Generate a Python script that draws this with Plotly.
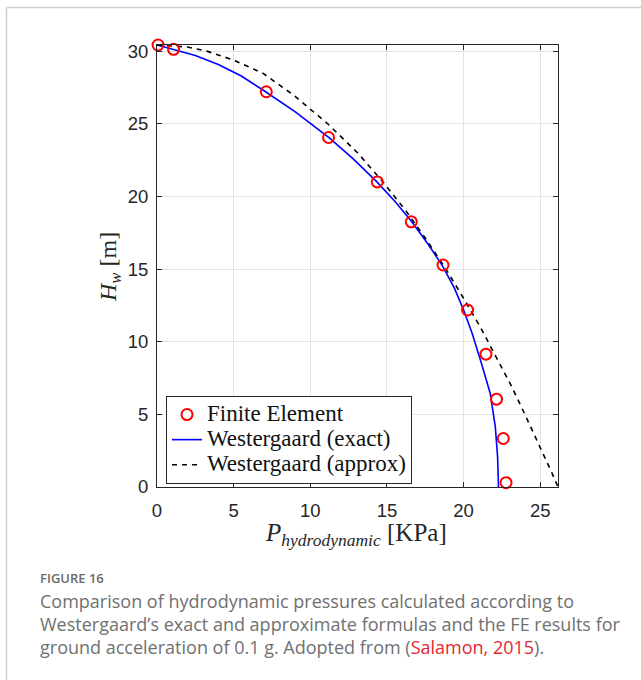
import plotly.graph_objects as go

# ---- data ----
fe_p = [0.07, 1.08, 7.13, 11.19, 14.37, 16.59, 18.66, 20.26, 21.46, 22.15, 22.59, 22.77]
fe_h = [30.44, 30.14, 27.22, 24.07, 21.01, 18.26, 15.29, 12.19, 9.15, 6.05, 3.34, 0.30]

exact_p = [0.0, 1.08, 2.5, 4.0, 5.5, 7.06, 9.0, 11.24, 12.8, 14.33, 15.5, 16.61, 17.7, 18.59,
           19.4, 20.0, 20.55, 21.1, 21.74, 22.07, 22.22, 22.28]
exact_h = [30.44, 30.14, 29.72, 29.1, 28.3, 27.24, 25.85, 24.05, 22.6, 21.03, 19.7, 18.28, 16.7, 15.29,
           13.7, 12.2, 10.6, 8.74, 6.44, 4.14, 2.07, 0.0]

approx_h = [30.44, 30.3, 30.0, 29.4, 28.5, 27.0, 25.0, 23.0, 21.0, 19.0, 17.0, 15.0, 13.0, 11.0, 9.0, 7.0, 5.0, 3.0, 1.0, 0.0]
approx_p = [0.0, 2.0, 3.3, 5.0, 6.9, 8.9, 11.15, 13.1, 14.75, 16.25, 17.6, 18.85, 20.0, 21.1, 22.1, 23.1, 24.0, 24.9, 25.75, 26.16]

x_ticks = [0, 5, 10, 15, 20, 25]
y_ticks = [0, 5, 10, 15, 20, 25, 30]

W, H = 641, 680
L, R, T, B = 157, 83, 45, 193
PW, PH = W - L - R, H - T - B


def px2x(px):
    return (px - L) / PW


def px2y(py):
    return (H - B - py) / PH


def big(s):
    return "<span style='font-size:23px'>" + s + "</span>"


fig = go.Figure()
fig.add_trace(go.Scatter(x=exact_p, y=exact_h, mode="lines", name=big("Westergaard (exact)"),
                         line=dict(color="#0000ff", width=1.6), legendrank=2))
fig.add_trace(go.Scatter(x=approx_p, y=approx_h, mode="lines", name=big("Westergaard (approx)"),
                         line=dict(color="#000000", width=1.6, dash="5px,5px"), legendrank=3))
fig.add_trace(go.Scatter(x=fe_p, y=fe_h, mode="markers", name=big("Finite Element"),
                         marker=dict(symbol="circle-open", size=11, color="#ff0000",
                                     line=dict(color="#ff0000", width=2)),
                         cliponaxis=False, legendrank=1))

axis_common = dict(
    showline=True, linecolor="#262626", linewidth=1, mirror="ticks",
    ticks="inside", ticklen=5, tickcolor="#262626", tickwidth=1,
    showgrid=True, gridcolor="#e3e3e3", gridwidth=1, zeroline=False,
    tickfont=dict(family="Liberation Sans, Arial, sans-serif", size=18.5, color="#262626"),
)

fig.update_xaxes(range=[0, 26.16], tickvals=x_ticks, ticktext=[str(v) for v in x_ticks],
                 ticklabelstandoff=7, **axis_common)
fig.update_yaxes(range=[0, 30.44], tickvals=y_ticks, ticktext=[str(v) for v in y_ticks],
                 ticklabelstandoff=4, **axis_common)

serif = "Liberation Serif, Times New Roman, serif"
caption_font = "Open Sans, Lato, sans-serif"

annotations = [
    dict(x=px2x(356), y=px2y(534), xref="paper", yref="paper", showarrow=False,
         text="<i>P</i><sub><i>hydrodynamic</i></sub> [KPa]",
         font=dict(family=serif, size=25, color="#262626"), xanchor="center", yanchor="middle"),
    dict(x=px2x(110), y=px2y(267), xref="paper", yref="paper", showarrow=False,
         text="<i>H</i><sub><i>w</i></sub> [m]", textangle=-90,
         font=dict(family=serif, size=24, color="#262626"), xanchor="center", yanchor="middle"),
    dict(x=px2x(38), y=px2y(578), xref="paper", yref="paper", showarrow=False,
         text="FIGURE 16", font=dict(family=caption_font, size=13, color="#6a6a6a", weight=600),
         xanchor="left", yanchor="middle"),
    dict(x=px2x(38), y=px2y(601), xref="paper", yref="paper", showarrow=False,
         text="Comparison of hydrodynamic pressures calculated according to",
         font=dict(family=caption_font, size=18, color="#707070"), xanchor="left", yanchor="middle"),
    dict(x=px2x(38), y=px2y(624), xref="paper", yref="paper", showarrow=False,
         text="Westergaard\u2019s exact and approximate formulas and the FE results for",
         font=dict(family=caption_font, size=18, color="#707070"), xanchor="left", yanchor="middle"),
    dict(x=px2x(38), y=px2y(647), xref="paper", yref="paper", showarrow=False,
         text="ground acceleration of 0.1 g. Adopted from (<span style='color:#e0282f'>Salamon, 2015</span>).",
         font=dict(family=caption_font, size=18, color="#707070"), xanchor="left", yanchor="middle"),
]

shapes = [
    dict(type="line", xref="paper", yref="paper", x0=px2x(6.5), x1=px2x(6.5), y0=px2y(7.5), y1=px2y(680),
         line=dict(color="#cfcfcf", width=1.5)),
    dict(type="line", xref="paper", yref="paper", x0=px2x(6.5), x1=px2x(641), y0=px2y(7.5), y1=px2y(7.5),
         line=dict(color="#cfcfcf", width=1.5)),
]

fig.update_layout(
    width=W, height=H,
    margin=dict(l=L, r=R, t=T, b=B),
    paper_bgcolor="white", plot_bgcolor="white",
    showlegend=True,
    legend=dict(x=px2x(166), y=px2y(396), xanchor="left", yanchor="top",
                bgcolor="white", bordercolor="#262626", borderwidth=1,
                font=dict(family=serif, size=17, color="#111111"),
                traceorder="normal", itemwidth=30),
    annotations=annotations,
    shapes=shapes,
)

fig.write_html("out.html")
